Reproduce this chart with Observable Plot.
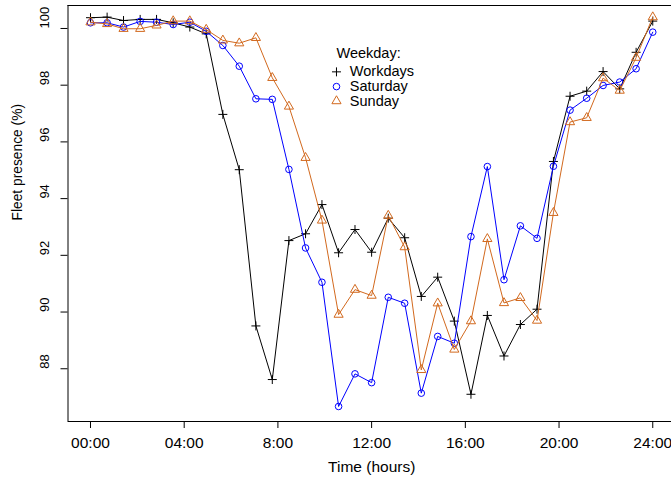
<!DOCTYPE html>
<html><head><meta charset="utf-8">
<script src="https://cdn.jsdelivr.net/npm/d3@7"></script>
<script src="https://cdn.jsdelivr.net/npm/@observablehq/plot@0.6"></script>
<style>body{margin:0;background:#fff}</style>
</head><body><div id="chart"></div>
<script>
// ---- data ----
const hours = [0, 0.71, 1.41, 2.12, 2.82, 3.53, 4.24, 4.94, 5.65, 6.35, 7.06, 7.76, 8.47, 9.18, 9.88, 10.59, 11.29, 12, 12.71, 13.41, 14.12, 14.82, 15.53, 16.24, 16.94, 17.65, 18.35, 19.06, 19.76, 20.47, 21.18, 21.88, 22.59, 23.29, 24];
const workdays = [100.38, 100.40, 100.28, 100.32, 100.32, 100.20, 100.05, 99.81, 96.97, 95.02, 89.51, 87.62, 92.52, 92.76, 93.79, 92.09, 92.91, 92.11, 93.31, 92.62, 90.55, 91.23, 89.68, 87.10, 89.88, 88.45, 89.56, 90.10, 95.31, 97.61, 97.79, 98.48, 97.87, 99.16, 100.26];
const saturday = [100.20, 100.20, 100.05, 100.25, 100.22, 100.14, 100.22, 99.90, 99.40, 98.67, 97.52, 97.50, 95.03, 92.26, 91.05, 86.67, 87.82, 87.51, 90.52, 90.31, 87.14, 89.14, 88.90, 92.66, 95.13, 91.14, 93.04, 92.60, 95.14, 97.12, 97.54, 97.99, 98.11, 98.58, 99.87];
const sunday = [100.22, 100.16, 99.99, 99.99, 100.11, 100.26, 100.26, 99.96, 99.58, 99.48, 99.67, 98.26, 97.25, 95.44, 93.23, 89.91, 90.79, 90.58, 93.40, 92.29, 87.96, 90.31, 88.68, 89.68, 92.58, 90.32, 90.50, 89.70, 93.50, 96.70, 96.85, 98.25, 97.81, 98.97, 100.40];
const seriesNames = ["Workdays", "Saturday", "Sunday"];
const xTicks = [0, 4, 8, 12, 16, 20, 24];
const xTickLabels = ["00:00", "04:00", "8:00", "12:00", "16:00", "20:00", "24:00"];
const yTicks = [88, 90, 92, 94, 96, 98, 100];
const xTitle = "Time (hours)";
const yTitle = "Fleet presence (%)";
const legendTitle = "Weekday:";

// ---- styles / layout ----
const colors = ["#000000", "#0000ff", "#d2691e"];
const symbols = ["plus", "circle", "triangle"];
const radii = [3, 3.3, 3.4];
const xDomain = [-0.96, 24.80];
const yDomain = [86.14, 100.81];
const legendX = 10.5, legendTextX = 11.07;
const legendTitleY = 99.12;
const legendRowY = [98.47, 97.95, 97.44];

const valuesBySeries = [workdays, saturday, sunday];
const rows = seriesNames.flatMap((name, s) =>
  hours.map((h, i) => ({series: name, s, hour: h, value: valuesBySeries[s][i]})));

const FONT = "'Liberation Sans', Arial, Helvetica, sans-serif";
const marks = [
  Plot.ruleX([xDomain[0]], {stroke: "black", strokeWidth: 1}),
  Plot.ruleY([yDomain[0], yDomain[1]], {stroke: "black", strokeWidth: 1}),
];
seriesNames.forEach((name, s) => {
  const d = rows.filter(r => r.s === s);
  marks.push(Plot.line(d, {x: "hour", y: "value", stroke: colors[s], strokeWidth: 1}));
  marks.push(Plot.dot(d, {x: "hour", y: "value", symbol: symbols[s], r: radii[s], stroke: colors[s], strokeWidth: 1, fill: "none"}));
});
marks.push(
  Plot.axisX({ticks: xTicks, tickFormat: d => xTickLabels[xTicks.indexOf(d)], tickSize: 7, tickPadding: 8, fontSize: 15.5, label: null, stroke: "black"}),
  Plot.axisY({ticks: yTicks, tickSize: 7, tickFormat: () => "", label: null, stroke: "black"}),
  Plot.text(yTicks, {y: d => d, text: d => String(d), frameAnchor: "left", dx: -23.5, rotate: -90, fontSize: 13, fill: "black"}),
  Plot.text([xTitle], {text: d => d, frameAnchor: "bottom", dy: 50, dx: 2, fontSize: 15.5, fill: "black"}),
  Plot.text([yTitle], {text: d => d, frameAnchor: "left", dx: -50.5, dy: 7, rotate: -90, fontSize: 13.8, fill: "black"}),
  // legend
  Plot.text([legendTitle], {x: () => legendX, y: () => legendTitleY, text: d => d, textAnchor: "start", fontSize: 14.5, fill: "black"}),
  Plot.text(seriesNames, {x: () => legendTextX, y: (d, i) => legendRowY[i], text: d => d, textAnchor: "start", fontSize: 14.5, fill: "black"}),
);
seriesNames.forEach((name, s) => {
  marks.push(Plot.dot([name], {x: () => legendX, y: () => legendRowY[s], symbol: symbols[s], r: radii[s], stroke: colors[s], strokeWidth: 1, fill: "none"}));
});

const chart = Plot.plot({
  width: 671,
  height: 483,
  marginLeft: 67.5,
  marginRight: 0,
  marginTop: 5,
  marginBottom: 62,
  x: {domain: xDomain},
  y: {domain: yDomain},
  style: {fontFamily: FONT, fontSize: "15px", background: "white", color: "black", overflow: "hidden"},
  marks
});
document.getElementById("chart").appendChild(chart);
</script>
</body></html>
